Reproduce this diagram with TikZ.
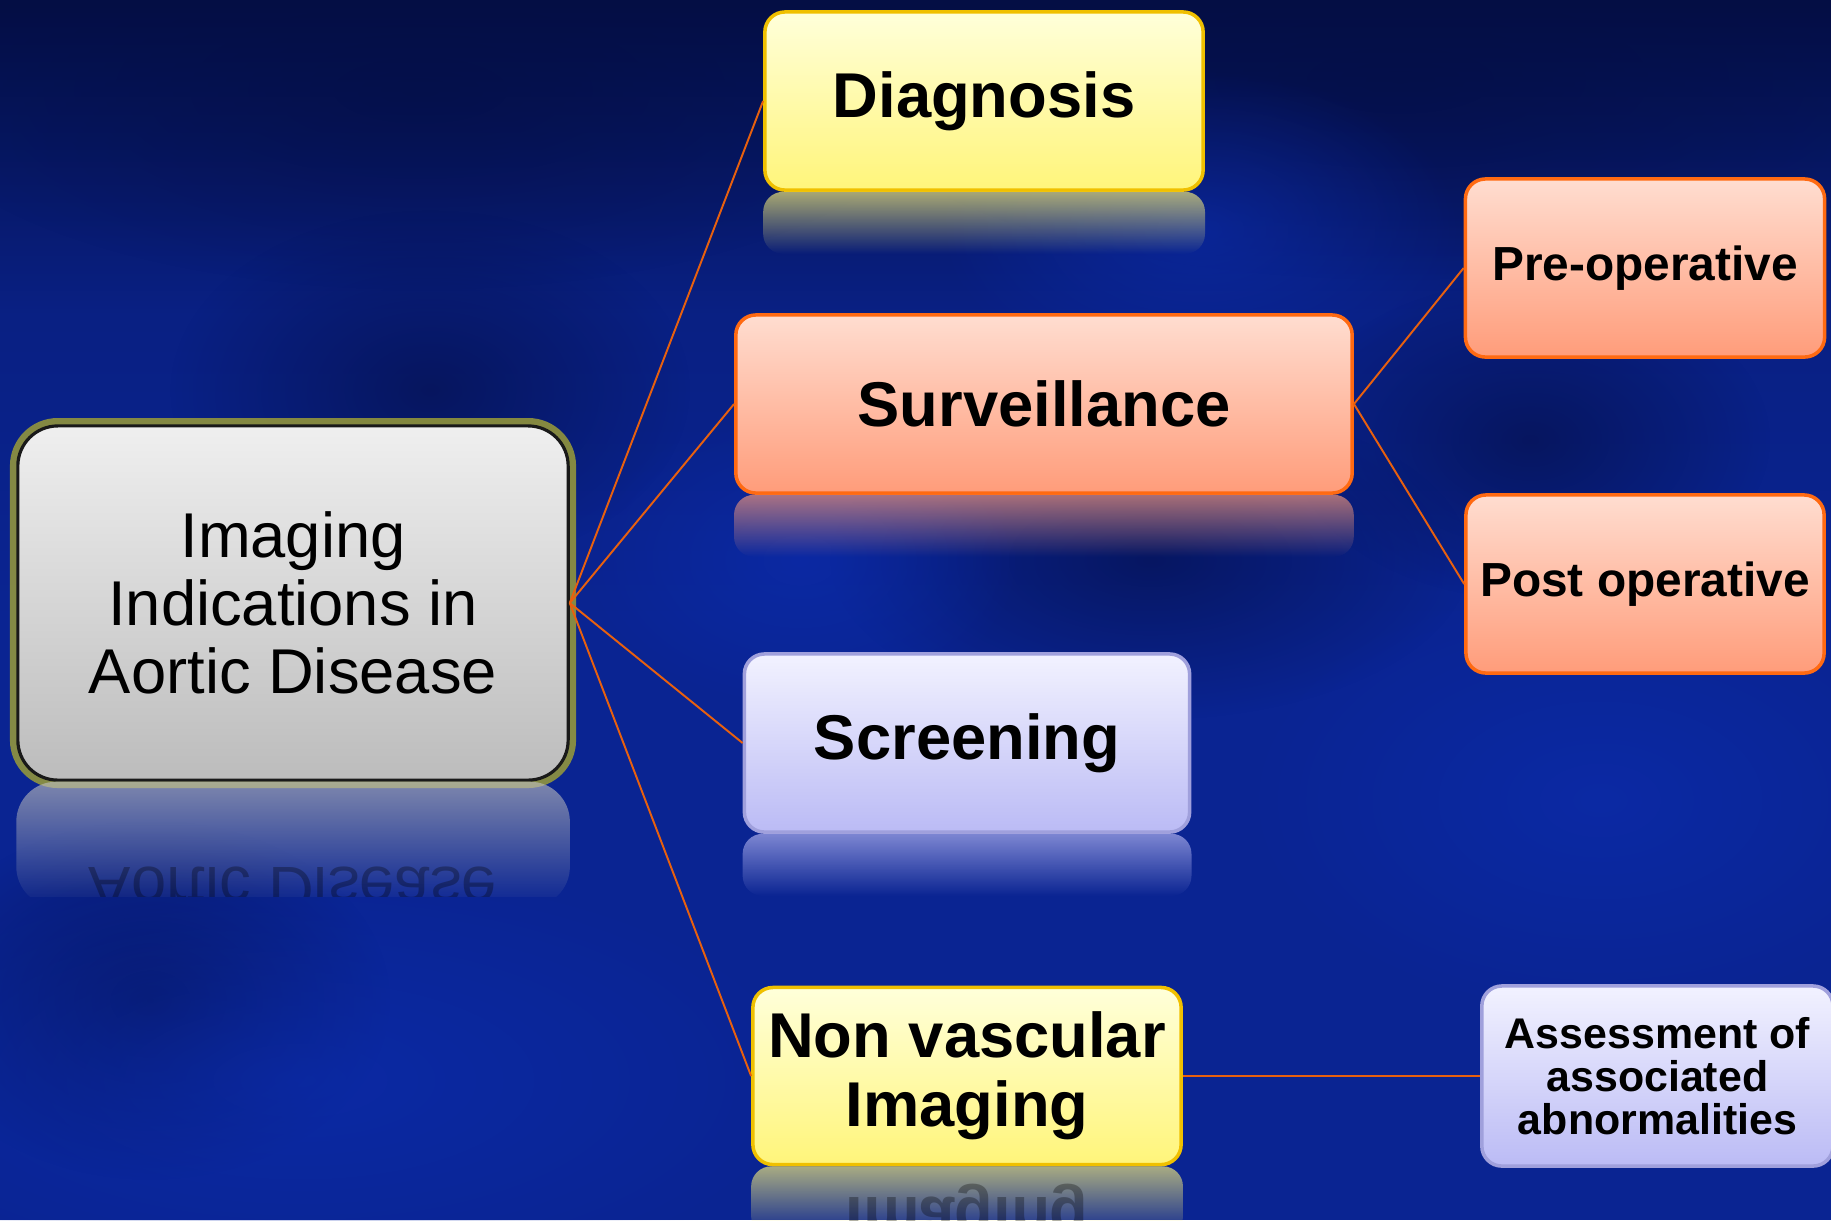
\documentclass[tikz,border=0pt]{standalone}
\usepackage{fontspec}
\setmainfont{Liberation Sans}
\usetikzlibrary{positioning, fadings}

\definecolor{bgdark}{HTML}{040E44}
\definecolor{bgblue}{HTML}{0A2492}
\definecolor{bgbright}{HTML}{0C2DB0}
\definecolor{linkorange}{HTML}{E8600E}
\definecolor{yeltop}{HTML}{FFFFDA}
\definecolor{yelbot}{HTML}{FFF57A}
\definecolor{yelline}{HTML}{F0C000}
\definecolor{saltop}{HTML}{FFDDD0}
\definecolor{salbot}{HTML}{FF9C7A}
\definecolor{salline}{HTML}{FF6A12}
\definecolor{lavtop}{HTML}{F2F2FF}
\definecolor{lavbot}{HTML}{BBBBF5}
\definecolor{lavline}{HTML}{A0A0DC}
\definecolor{graytop}{HTML}{EFEFEF}
\definecolor{graybot}{HTML}{BCBCBC}
\definecolor{glowolive}{HTML}{9A9C38}

\tikzfading[name=reflfade, top color=transparent!35, bottom color=transparent!100]
\tikzfading[name=blobfade, inner color=transparent!40, outer color=transparent!100]

\begin{document}
\begin{tikzpicture}[
        x=0.01cm, y=-0.01cm,
        box/.style={rectangle, rounded corners=0.2cm, line width=1pt, inner sep=0pt,
            align=center, minimum height=1.78cm, text=black,
            font=\fontsize{18}{19.5}\selectfont\bfseries},
        yelbox/.style={box, draw=yelline, top color=yeltop, bottom color=yelbot},
        salbox/.style={box, draw=salline, top color=saltop, bottom color=salbot},
        lavbox/.style={box, draw=lavline, top color=lavtop, bottom color=lavbot},
        small/.style={font=\fontsize{13.6}{14.5}\selectfont\bfseries},
        mainbox/.style={box, rounded corners=0.4cm, draw=black!90, line width=0.9pt,
            top color=graytop, bottom color=graybot,
            minimum width=5.5cm, minimum height=3.54cm,
            font=\fontsize{18}{19.4}\selectfont,
            preaction={draw=glowolive, line width=4.5pt, opacity=0.85}},
        refl/.style={rounded corners=0.2cm, path fading=reflfade},
        blob/.style={path fading=blobfade},
        link/.style={draw=linkorange, line width=0.55pt}
    ]
    \useasboundingbox (0,0) rectangle (1831,1220);
    \clip (0,0) rectangle (1831,1220);

    % Background
    \fill[bgblue] (0,0) rectangle (1831,1220);
    \shade[top color=bgdark, bottom color=bgblue, middle color=bgblue!80!bgdark] (0,0) rectangle (1831,620);
    \fill[bgdark, blob] (420,90) ellipse (520 and 200);
    \fill[bgdark, blob] (1400,80) ellipse (560 and 200);
    \fill[bgdark, blob] (430,390) ellipse (260 and 180);
    \fill[bgdark, blob] (1150,560) ellipse (320 and 160);
    \fill[bgdark, blob] (150,1000) ellipse (240 and 180);
    \fill[bgdark, blob] (1530,440) ellipse (240 and 160);
    \fill[bgbright, blob] (300,1080) ellipse (520 and 220);
    \fill[bgbright, blob] (1200,230) ellipse (260 and 160);
    \fill[bgbright, blob] (1600,800) ellipse (360 and 220);
    \fill[bgbright, blob] (800,560) ellipse (220 and 150);

    % Root
    \node[mainbox] (main) at (293,603) {Imaging\\Indications in\\Aortic Disease};

    % First level
    \node[yelbox, minimum width=4.38cm] (diag) at (984,101) {Diagnosis};
    \node[salbox, minimum width=6.16cm] (surv) at (1044,404) {Surveillance};
    \node[lavbox, minimum width=4.45cm] (scr) at (967,743) {Screening};
    \node[yelbox, minimum width=4.28cm, minimum height=1.77cm] (nonv) at (967,1076) {Non vascular\\Imaging};

    % Second level
    \node[salbox, small, minimum width=3.59cm] (pre) at (1645,268) {Pre-operative};
    \node[salbox, small, minimum width=3.58cm] (post) at (1645,584) {Post operative};
    \node[lavbox, right=2.97cm of nonv, minimum width=3.51cm, minimum height=1.8cm,
        font=\fontsize{12.2}{12.3}\selectfont\bfseries] (assess) {Assessment of\\associated\\abnormalities};

    % Reflections
    \begin{scope}
        \clip (main.south west) rectangle ([yshift=-1.15cm]main.south east);
        \fill[refl, graybot, rounded corners=0.4cm] (main.south west) rectangle ([yshift=-1.25cm]main.south east);
        \node[yscale=-1, anchor=base, opacity=0.3, font=\fontsize{18}{19.4}\selectfont] at (293,867) {Aortic Disease};
    \end{scope}
    \fill[refl, yelbot] (diag.south west) rectangle ([yshift=-0.62cm]diag.south east);
    \fill[refl, salbot] (surv.south west) rectangle ([yshift=-0.62cm]surv.south east);
    \fill[refl, lavbot] (scr.south west) rectangle ([yshift=-0.62cm]scr.south east);
    \begin{scope}
        \clip (nonv.south west) rectangle ([yshift=-0.6cm]nonv.south east);
        \fill[refl, yelbot] (nonv.south west) rectangle ([yshift=-0.7cm]nonv.south east);
        \node[yscale=-1, anchor=base, opacity=0.3, font=\fontsize{18}{19.5}\selectfont\bfseries] at (967,1197) {Imaging};
    \end{scope}

    % Links
    \draw[link] (main.east) -- (diag.west);
    \draw[link] (main.east) -- (surv.west);
    \draw[link] (main.east) -- (scr.west);
    \draw[link] (main.east) -- (nonv.west);
    \draw[link] (surv.east) -- (pre.west);
    \draw[link] (surv.east) -- (post.west);
    \draw[link] (nonv.east) -- (assess.west);
\end{tikzpicture}
\end{document}
